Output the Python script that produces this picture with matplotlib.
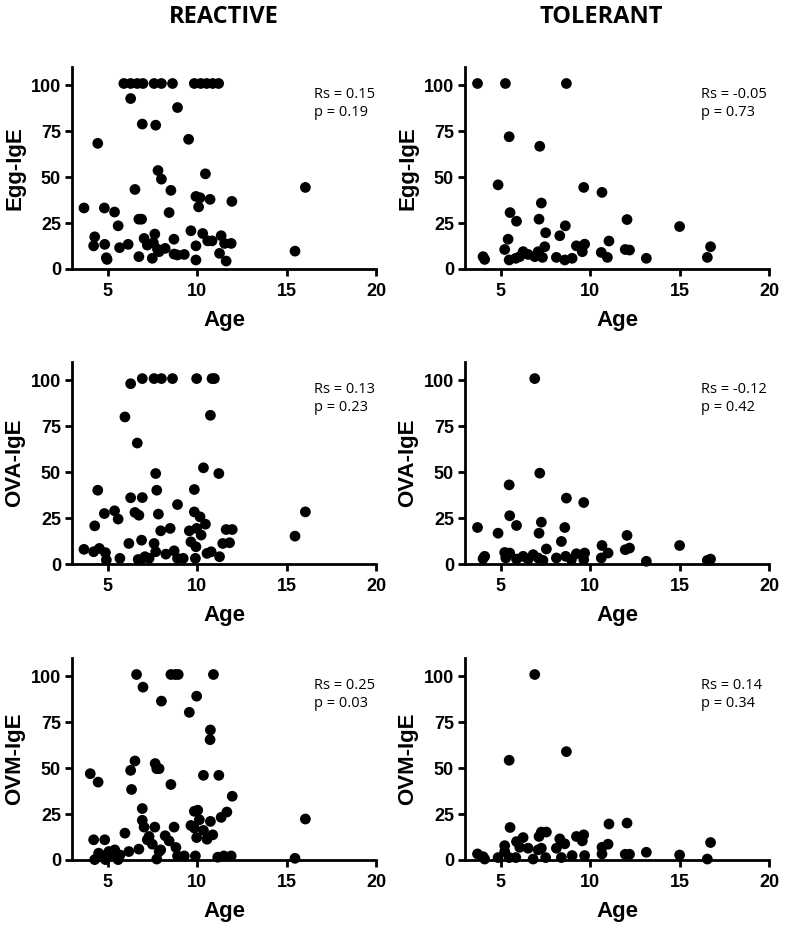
import matplotlib
matplotlib.use("Agg")
import matplotlib.pyplot as plt

# ---- data (age, IgE) ----
react_egg_age = [5.9, 6.28, 6.65, 6.97, 7.59, 8.0, 8.62, 9.84, 10.2, 10.53, 10.87, 11.2,
                 6.28, 8.9, 6.93, 7.68, 4.44, 9.52, 7.81, 8.0, 10.46, 6.52, 8.53, 9.93,
                 10.16, 10.72, 10.08, 11.94, 3.67, 4.81, 5.38, 8.43, 5.58, 6.74, 6.89,
                 16.05, 15.47, 4.27, 4.21, 4.83, 4.92, 4.96, 5.66, 6.14, 6.74, 7.03,
                 7.21, 7.55, 7.63, 7.49, 7.78, 7.87, 8.21, 8.7, 8.71, 8.9, 9.28, 9.65,
                 9.93, 9.93, 10.31, 10.59, 10.83, 11.34, 11.25, 11.62, 11.53, 11.9]
react_egg_val = [101, 101, 101, 101, 101, 101, 101, 101, 101, 101, 101, 101,
                 92.8, 87.9, 78.9, 78.3, 68.4, 70.6, 53.6, 48.9, 51.8, 43.3, 42.8, 39.5,
                 38.8, 37.9, 33.8, 36.8, 33.2, 33.2, 31.0, 30.7, 23.5, 27.1, 27.1,
                 44.4, 9.7, 17.5, 12.6, 13.4, 6.1, 5.2, 11.6, 13.4, 6.7, 16.6,
                 13.0, 14.3, 19.0, 5.8, 10.8, 9.4, 11.2, 16.2, 8.1, 7.6, 7.9, 20.8,
                 12.6, 4.9, 19.3, 15.3, 15.3, 18.1, 8.5, 4.3, 13.9, 13.9]

tol_egg_age = [3.7, 5.26, 8.67, 5.47, 7.18, 4.85, 9.64, 10.66, 5.52, 5.88, 7.14, 7.27,
               12.06, 15.0, 7.51, 8.61, 8.3, 5.41, 5.22, 4.01, 4.1, 5.47, 5.84, 6.25,
               6.53, 6.9, 7.09, 7.33, 7.46, 8.11, 8.58, 8.99, 9.23, 9.56, 9.69, 10.62,
               10.96, 11.05, 11.96, 12.2, 13.14, 16.55, 16.73, 6.06]
tol_egg_val = [101, 101, 101, 72.0, 66.8, 45.8, 44.4, 41.7, 30.7, 26.0, 27.1, 35.9,
               26.9, 23.1, 19.7, 23.5, 18.1, 16.2, 10.6, 6.7, 5.2, 4.9, 5.8, 9.4,
               7.9, 6.7, 9.4, 6.3, 12.1, 6.3, 4.9, 5.8, 12.6, 9.4, 13.5, 9.0,
               6.3, 15.2, 10.6, 10.3, 5.8, 6.3, 12.1, 6.7]

react_ova_age = [6.93, 7.59, 8.0, 8.62, 9.97, 10.83, 10.96, 6.28, 5.96, 10.74, 6.65,
                 7.68, 10.35, 11.21, 4.44, 7.74, 9.84, 6.28, 6.93, 8.9, 4.81, 5.38,
                 5.58, 6.52, 6.74, 7.83, 9.84, 10.16, 10.46, 4.27, 7.96, 8.49, 9.56,
                 9.97, 10.22, 11.62, 11.96, 11.43, 11.81, 15.47, 16.05, 3.67, 4.21,
                 4.53, 4.87, 4.92, 5.68, 6.18, 6.89, 6.84, 7.08, 7.31, 7.59, 7.68,
                 8.25, 8.71, 8.9, 9.22, 9.65, 9.93, 9.9, 10.55, 10.78, 11.25, 6.7]
react_ova_val = [101, 101, 101, 101, 101, 101, 101, 98.2, 80.1, 81.0, 65.9,
                 49.3, 52.4, 49.3, 40.2, 40.2, 40.6, 36.1, 36.2, 32.4, 27.5, 29.0,
                 24.5, 28.1, 26.6, 27.2, 28.4, 25.7, 21.7, 20.8, 18.1, 19.4, 18.1,
                 19.4, 15.8, 18.8, 18.8, 11.2, 11.6, 15.2, 28.4, 8.0, 6.7,
                 8.5, 6.2, 2.2, 3.1, 11.2, 13.0, 2.2, 4.0, 3.1, 11.2, 6.7,
                 5.4, 7.2, 3.1, 3.1, 12.1, 9.4, 3.1, 5.8, 6.7, 4.0, 2.5]

tol_ova_age = [6.9, 7.18, 5.47, 8.67, 9.64, 5.5, 5.88, 7.27, 7.14, 3.7, 4.85, 8.58,
               8.39, 12.06, 12.2, 11.96, 15.0, 10.66, 11.0, 10.62, 7.55, 4.01, 4.1,
               5.22, 5.28, 5.5, 5.88, 6.25, 6.53, 6.81, 7.09, 7.36, 8.11, 8.63,
               8.95, 9.23, 9.69, 9.64, 13.14, 16.55, 16.73]
tol_ova_val = [101, 49.5, 43.1, 35.9, 33.5, 26.3, 21.0, 22.8, 16.8, 19.9, 16.8, 19.9,
               12.3, 15.6, 8.7, 7.8, 10.1, 10.1, 6.0, 3.3, 8.2, 2.9, 4.2,
               6.3, 3.3, 6.0, 2.7, 4.2, 2.7, 5.1, 3.3, 2.0, 3.3, 4.2,
               2.4, 5.6, 6.0, 2.4, 1.5, 2.0, 2.7]

react_ovm_age = [6.61, 8.53, 8.77, 8.94, 10.91, 6.97, 8.0, 9.97, 9.56, 10.74, 10.72,
                 4.02, 4.46, 6.52, 6.28, 7.65, 7.74, 7.87, 8.53, 10.35, 11.21, 6.33,
                 6.93, 6.93, 7.03, 7.63, 8.71, 8.21, 8.43, 9.84, 10.03, 9.65, 9.84,
                 10.12, 9.97, 10.35, 10.55, 10.74, 10.87, 11.34, 11.66, 11.96, 16.05,
                 15.47, 4.21, 4.83, 4.49, 4.27, 4.59, 4.87, 5.06, 5.39, 5.68, 5.58,
                 5.96, 6.18, 6.74, 7.21, 7.31, 7.49, 7.74, 7.87, 7.96, 8.81, 8.9,
                 9.28, 9.9, 11.15, 11.49, 11.9, 5.24]
react_ovm_val = [101, 101, 101, 101, 101, 94.1, 86.5, 89.2, 80.4, 70.8, 65.5,
                 47.0, 42.4, 53.9, 48.8, 52.5, 49.7, 49.7, 41.1, 46.1, 46.1, 38.4,
                 28.0, 21.6, 17.9, 17.9, 17.9, 13.2, 10.4, 26.5, 27.1, 18.8, 17.4,
                 21.9, 12.2, 16.1, 11.3, 21.0, 13.7, 23.2, 26.1, 34.7, 22.3,
                 0.9, 11.0, 11.0, 3.7, 0.2, 2.7, 0.2, 4.6, 5.5, 2.7, 0.2,
                 14.6, 4.6, 5.9, 11.0, 12.8, 8.6, 0.5, 4.6, 5.5, 6.8, 2.2,
                 2.2, 2.2, 1.5, 2.2, 2.2, 2.7]

tol_ovm_age = [6.9, 5.47, 8.67, 5.52, 7.27, 7.55, 7.14, 11.05, 12.06, 9.23, 9.64,
               9.56, 8.3, 8.58, 8.11, 6.25, 5.88, 6.06, 6.53, 5.22, 5.22, 10.66,
               11.0, 10.66, 11.96, 12.2, 13.14, 15.0, 16.55, 16.73, 3.7, 4.01, 4.1,
               4.85, 5.47, 5.84, 6.81, 7.09, 7.27, 7.51, 8.39, 8.99, 9.69]
tol_ovm_val = [101, 54.3, 59.0, 17.7, 15.2, 15.2, 12.8, 19.6, 20.1, 12.8, 13.7,
               10.4, 11.5, 8.8, 6.4, 12.2, 10.0, 6.9, 6.4, 7.8, 4.6, 6.9,
               8.6, 3.3, 3.1, 3.1, 4.2, 2.7, 0.5, 9.5, 3.3, 1.8, 0.5,
               1.3, 1.3, 1.3, 0.5, 5.5, 6.4, 1.3, 1.3, 2.4, 2.4]

row_labels = ["Egg-IgE", "OVA-IgE", "OVM-IgE"]
col_titles = ["REACTIVE", "TOLERANT"]
stats = [["Rs = 0.15\np = 0.19", "Rs = -0.05\np = 0.73"],
         ["Rs = 0.13\np = 0.23", "Rs = -0.12\np = 0.42"],
         ["Rs = 0.25\np = 0.03", "Rs = 0.14\np = 0.34"]]
panels = [[(react_egg_age, react_egg_val), (tol_egg_age, tol_egg_val)],
          [(react_ova_age, react_ova_val), (tol_ova_age, tol_ova_val)],
          [(react_ovm_age, react_ovm_val), (tol_ovm_age, tol_ovm_val)]]

fig = plt.figure(figsize=(7.86, 9.3), dpi=100)

lefts = [0.0916, 0.5916]
bottoms = [0.7108, 0.3935, 0.0753]
W, H = 0.3868, 0.2172
stat_x = [16.55, 16.2]

for r in range(3):
    for c in range(2):
        ax = fig.add_axes([lefts[c], bottoms[r], W, H])
        x, y = panels[r][c]
        ax.scatter(x, y, s=60, color="black", edgecolors="none", clip_on=False, zorder=3)
        ax.set_xlim(3, 20)
        ax.set_ylim(0, 110)
        ax.set_xticks([5, 10, 15, 20])
        ax.set_yticks([0, 25, 50, 75, 100])
        for s in ["top", "right"]:
            ax.spines[s].set_visible(False)
        for s in ["left", "bottom"]:
            ax.spines[s].set_linewidth(2)
        ax.tick_params(width=2, length=5, direction="out", pad=3)
        ax.tick_params(axis="x", pad=5)
        for lab in ax.get_xticklabels() + ax.get_yticklabels():
            lab.set_fontfamily("Liberation Sans")
            lab.set_fontweight("bold")
            lab.set_fontsize(13)
        ax.set_xlabel("Age", fontfamily="Liberation Sans", fontweight="bold",
                      fontsize=16, labelpad=7)
        ax.set_ylabel(row_labels[r], fontfamily="Liberation Sans", fontweight="bold",
                      fontsize=16, labelpad=4)
        ax.text(stat_x[c], 99, stats[r][c], fontfamily="Open Sans", fontsize=10.5,
                va="top", ha="left", linespacing=1.25)

fig.text(0.285, 0.995, col_titles[0], fontfamily="Open Sans", fontweight="bold",
         fontsize=17, ha="center", va="top")
fig.text(0.765, 0.995, col_titles[1], fontfamily="Open Sans", fontweight="bold",
         fontsize=17, ha="center", va="top")

fig.savefig("out.png", dpi=100)
